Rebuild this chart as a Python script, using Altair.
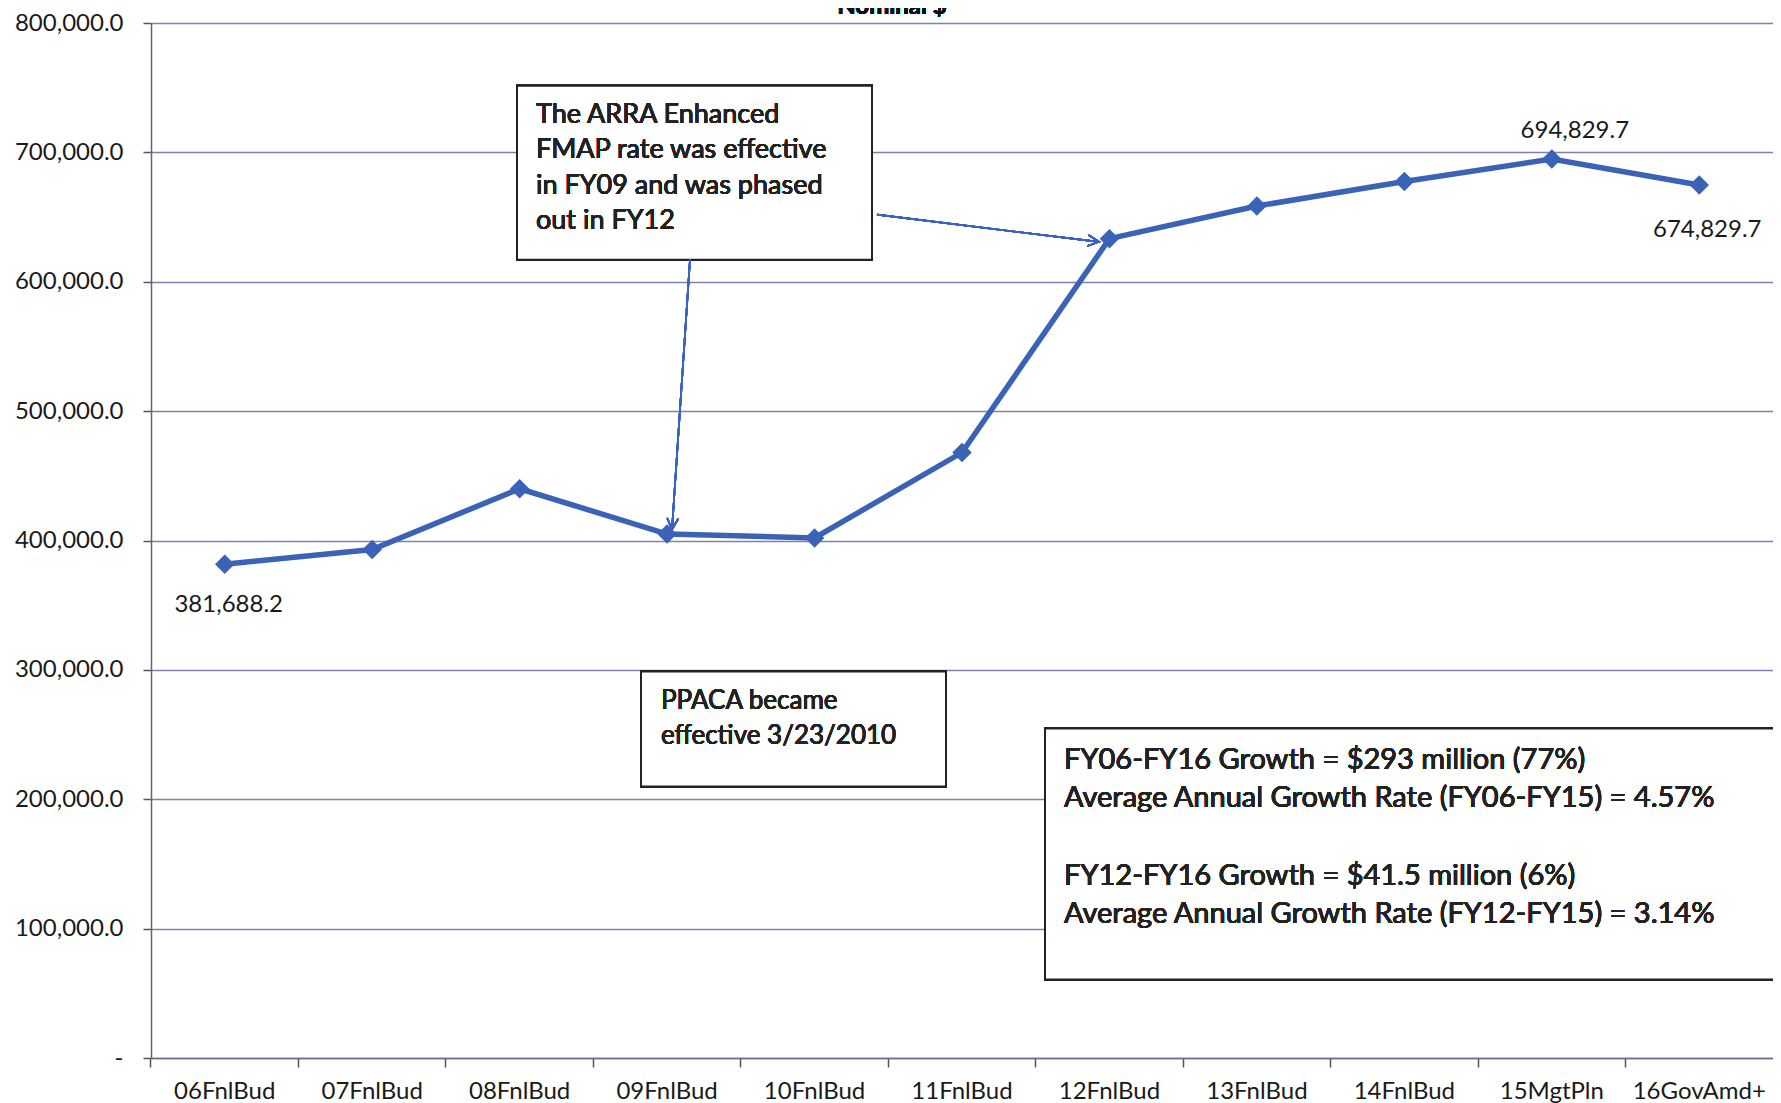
import altair as alt
import pandas as pd

categories = ["06FnlBud", "07FnlBud", "08FnlBud", "09FnlBud", "10FnlBud", "11FnlBud",
              "12FnlBud", "13FnlBud", "14FnlBud", "15MgtPln", "16GovAmd+"]
values = [381688.2, 393000.0, 440000.0, 405000.0, 402000.0, 468000.0,
          633300.0, 658500.0, 677500.0, 694829.7, 674829.7]
y_ticks = [0, 100000, 200000, 300000, 400000, 500000, 600000, 700000, 800000]

box1_lines = ["The ARRA Enhanced", "FMAP rate was effective", "in FY09 and was phased", "out in FY12"]
box2_lines = ["PPACA became", "effective 3/23/2010"]
box3_lines = ["FY06-FY16 Growth = $293 million (77%)",
              "Average Annual Growth Rate (FY06-FY15) = 4.57%",
              "FY12-FY16 Growth = $41.5 million (6%)",
              "Average Annual Growth Rate (FY12-FY15) = 3.14%"]

df = pd.DataFrame({"cat": categories, "val": values})

W, H = 1622, 1035
FONT = "Lato"
LINE_COLOR = "#3a62b6"
GRID_COLOR = "#8080b0"
TXT = "#1a1a1a"

x_enc = alt.X("cat:N", sort=categories, title=None,
              scale=alt.Scale(type="band", paddingInner=0, paddingOuter=0),
              axis=alt.Axis(bandPosition=0, labelAngle=0,
                            labelFont=FONT, labelFontSize=24, labelColor=TXT,
                            labelPadding=12, tickSize=9, tickColor="#555", tickWidth=1.5,
                            domainColor="#6a6a90", domainWidth=1.5, grid=False))
y_enc = alt.Y("val:Q", title=None,
              scale=alt.Scale(domain=[0, 800000], nice=False, zero=True),
              axis=alt.Axis(values=y_ticks,
                            labelExpr="datum.value == 0 ? '-' : format(datum.value, ',.1f')",
                            labelFont=FONT, labelFontSize=24, labelColor=TXT,
                            labelPadding=20, tickSize=8, tickColor="#555", tickWidth=1.5,
                            domainColor="#666", domainWidth=1.5,
                            grid=True, gridColor=GRID_COLOR, gridWidth=1.6))

base = alt.Chart(df)
line = base.mark_line(color=LINE_COLOR, strokeWidth=5.5).encode(x=x_enc, y=y_enc)
pts = base.mark_point(shape="diamond", filled=True, size=380, color=LINE_COLOR,
                      opacity=1).encode(x=alt.X("cat:N", sort=categories), y="val:Q")


def lbl(cat, dx, dy):
    return base.transform_filter(alt.datum.cat == cat).mark_text(
        font=FONT, fontSize=24, fontWeight=400, color=TXT, dx=dx, dy=dy, align="center",
        baseline="middle").encode(x=alt.X("cat:N", sort=categories), y="val:Q",
                                  text=alt.Text("val:Q", format=",.1f"))


labels = [lbl("06FnlBud", 4, 41), lbl("15MgtPln", 23, -28), lbl("16GovAmd+", 8, 45)]


def box(x1, x2, ytop, ybot):
    return alt.Chart(df).mark_rect(fill="white", stroke="#222", strokeWidth=2).encode(
        x=alt.value(x1), x2=alt.value(x2), y=alt.datum(ytop), y2=alt.datum(ybot))


def text_lines(lines, xpx, yvals, size):
    out = []
    for t, yv in zip(lines, yvals):
        out.append(alt.Chart(df).mark_text(font=FONT, fontSize=size, fontWeight=400,
                                           color="#222", align="left", baseline="middle").encode(
            x=alt.value(xpx), y=alt.datum(yv), text=alt.value(t)))
    return out


boxes = [box(366, 721, 751500, 617000), box(490, 795, 298800, 209900),
         box(894, 1680, 254600, 60600)]
texts = (text_lines(box1_lines, 385, [729100, 702100, 674300, 647200], 27)
         + text_lines(box2_lines, 510, [276200, 249200], 26)
         + text_lines(box3_lines, 913, [230700, 201300, 141000, 111600], 29))


def arrow(x1, y1, x2, y2, ang):
    r = alt.Chart(df).mark_rule(color="#3d62c4", strokeWidth=1.6).encode(
        x=alt.value(x1), y=alt.datum(y1), x2=alt.value(x2), y2=alt.datum(y2))
    h = alt.Chart(df).mark_point(shape="M-0.5,-1L0,0L0.5,-1", filled=False,
                                 color="#3d62c4", strokeWidth=1.6, size=500,
                                 opacity=1, angle=ang).encode(
        x=alt.value(x2), y=alt.datum(y2))
    return [r, h]


arrows = arrow(539, 617100, 521, 408500, 3.8) + arrow(726, 651900, 948, 630800, 277)

title = alt.Chart(df).mark_text(text="Nominal $", font=FONT, fontSize=24,
                                fontWeight="bold", color="#111", align="center",
                                baseline="alphabetic").encode(
    x=alt.value(741), y=alt.value(-9))

chart = alt.layer(line, *boxes, *texts, pts, *arrows, *labels, title).properties(
    width=W, height=H,
    autosize=alt.AutoSizeParams(type="none"),
    padding={"left": 143, "top": 15, "right": 0, "bottom": 45},
    background="white",
).configure_view(stroke=None)

chart.save("out.html", embed_options={"renderer": "svg", "actions": False})
